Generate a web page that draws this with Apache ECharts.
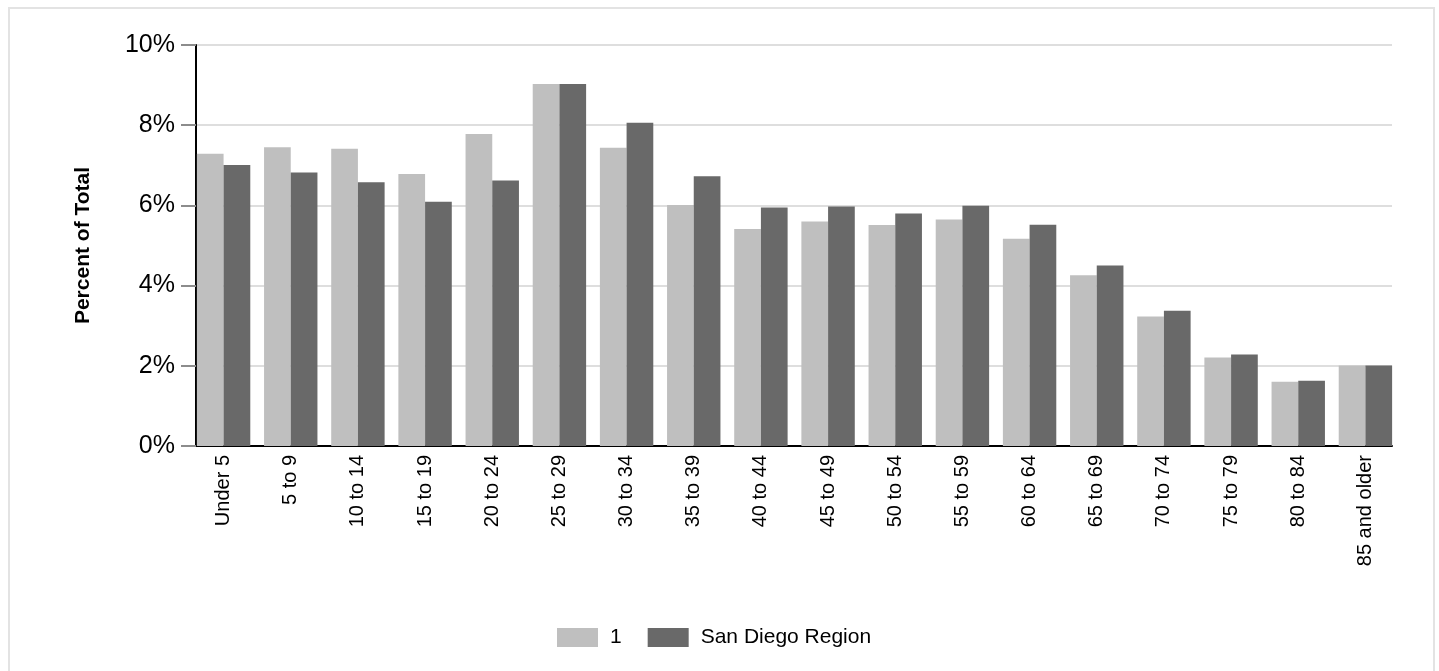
<!DOCTYPE html>
<html>
<head>
<meta charset="utf-8">
<script src="https://cdn.jsdelivr.net/npm/echarts@6/dist/echarts.min.js"></script>
<style>
  html, body { margin: 0; padding: 0; background: #fff; }
  #frame {
    position: absolute; left: 8px; top: 7px; width: 1427px; height: 680px;
    border: 2px solid #e3e3e3; box-sizing: border-box;
  }
  #chart { position: absolute; left: 0; top: 0; width: 1439px; height: 671px; }
</style>
</head>
<body>
<div id="frame"></div>
<div id="chart"></div>
<script>
// age groups
const ageGroups = ['Under 5', '5 to 9', '10 to 14', '15 to 19', '20 to 24', '25 to 29',
  '30 to 34', '35 to 39', '40 to 44', '45 to 49', '50 to 54', '55 to 59',
  '60 to 64', '65 to 69', '70 to 74', '75 to 79', '80 to 84', '85 and older'];

// percent of total
const area1 = [7.29, 7.45, 7.41, 6.78, 7.78, 9.03, 7.44, 6.01, 5.41, 5.60, 5.51, 5.65,
  5.17, 4.26, 3.23, 2.21, 1.60, 2.01];
const sanDiego = [7.01, 6.82, 6.58, 6.09, 6.62, 9.03, 8.06, 6.73, 5.95, 5.97, 5.80, 5.99,
  5.52, 4.50, 3.37, 2.28, 1.63, 2.01];

const yTicks = [0, 2, 4, 6, 8, 10];

const font = 'Arial, "Liberation Sans", sans-serif';

let myChart = echarts.init(document.getElementById('chart'));
myChart.setOption({
  animation: false,
  textStyle: { fontFamily: font },
  legend: {
    data: ['1', 'San Diego Region'],
    left: 557,
    top: 627,
    padding: 0,
    itemWidth: 41,
    itemHeight: 19,
    itemGap: 26,
    textStyle: { fontSize: 21, color: '#000', fontFamily: font, padding: [0, 0, 0, 7] },
    icon: 'rect'
  },
  grid: [
    // axes frame
    { left: 196, right: 47, top: 45, bottom: 225 },
    // bars, no outer padding
    { left: 190, right: 40, top: 45, bottom: 225 }
  ],
  xAxis: [
    {
      gridIndex: 0, type: 'category', data: [''], boundaryGap: false,
      axisLine: { show: true, lineStyle: { color: '#000', width: 2 } },
      axisTick: { show: false }, axisLabel: { show: false }, splitLine: { show: false }
    },
    {
      gridIndex: 1, type: 'category', data: ageGroups,
      axisLine: { show: false }, axisTick: { show: false },
      axisLabel: { rotate: 90, fontSize: 20, color: '#000', margin: 9, interval: 0, fontFamily: font }
    }
  ],
  yAxis: [
    {
      gridIndex: 0, type: 'value', min: yTicks[0], max: yTicks[yTicks.length - 1], interval: 2,
      name: 'Percent of Total',
      nameLocation: 'middle',
      nameGap: 102,
      nameTextStyle: { fontSize: 21, fontWeight: 'bold', color: '#000', fontFamily: font },
      axisLine: { show: true, onZero: false, lineStyle: { color: '#000', width: 2 } },
      axisTick: { show: true, inside: false, length: 15, lineStyle: { color: '#8c8c8c', width: 2 } },
      axisLabel: { formatter: '{value}%', fontSize: 25, color: '#000', margin: 21, fontFamily: font },
      splitLine: { show: true, lineStyle: { color: '#dedede', width: 2 } }
    },
    {
      gridIndex: 1, type: 'value', min: 0, max: 10, interval: 2,
      axisLine: { show: false }, axisTick: { show: false },
      axisLabel: { show: false }, splitLine: { show: false }
    }
  ],
  series: [
    {
      name: '1', type: 'bar', xAxisIndex: 1, yAxisIndex: 1,
      data: area1, barGap: '0%', barCategoryGap: '20.5%',
      itemStyle: { color: '#bfbfbf' }
    },
    {
      name: 'San Diego Region', type: 'bar', xAxisIndex: 1, yAxisIndex: 1,
      data: sanDiego, barGap: '0%', barCategoryGap: '20.5%',
      itemStyle: { color: '#696969' }
    }
  ]
});
</script>
</body>
</html>
